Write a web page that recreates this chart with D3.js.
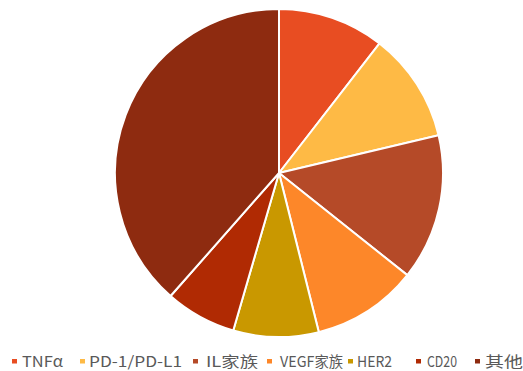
<!DOCTYPE html>
<html>
<head>
<meta charset="utf-8">
<script src="https://cdn.jsdelivr.net/npm/d3@7"></script>
<style>
  html, body { margin: 0; padding: 0; background: #fff; }
  svg { display: block; }
</style>
</head>
<body>
<svg id="chart" width="523" height="371"></svg>
<script>
// Target share by category (%)
const categories = ["TNFα", "PD-1/PD-L1", "IL家族", "VEGF家族", "HER2", "CD20", "其他"];
const values = [10.5, 10.8, 14.4, 10.4, 8.4, 7.0, 38.5];
const colors = ["#E84D22", "#FEBA45", "#B54A28", "#FD8729", "#C99800", "#B02A03", "#8E2B10"];

// Legend layout: marker x, text x, rendered text width
const legendMarkerX = [12, 80, 193, 267, 348, 416, 475];
const legendTextX = [22, 89, 206, 280, 357, 427, 485];
const legendTextW = [41, 93, 52, 63, 35, 30, 38];

const svg = d3.select("#chart");
const cx = 279, cy = 173, r = 164;

const data = categories.map((c, i) => ({ name: c, value: values[i], color: colors[i] }));

const pie = d3.pie().sort(null).value(d => d.value);
const arc = d3.arc().innerRadius(0).outerRadius(r);

svg.append("g")
  .attr("transform", `translate(${cx},${cy})`)
  .selectAll("path")
  .data(pie(data))
  .join("path")
  .attr("d", arc)
  .attr("fill", d => d.data.color)
  .attr("stroke", "#fff")
  .attr("stroke-width", 2)
  .attr("stroke-linejoin", "round");

const legend = svg.append("g");
const items = legend.selectAll("g").data(data).join("g");
items.append("rect")
  .attr("x", (d, i) => legendMarkerX[i])
  .attr("y", 359)
  .attr("width", 5)
  .attr("height", 4.5)
  .attr("fill", d => d.color);
items.append("text")
  .attr("x", (d, i) => legendTextX[i])
  .attr("y", 366.5)
  .attr("font-family", "'Noto Sans CJK SC', 'DejaVu Sans', sans-serif")
  .attr("font-size", 15)
  .attr("fill", "#595959")
  .attr("textLength", (d, i) => legendTextW[i])
  .attr("lengthAdjust", "spacingAndGlyphs")
  .text(d => d.name);
</script>
</body>
</html>
